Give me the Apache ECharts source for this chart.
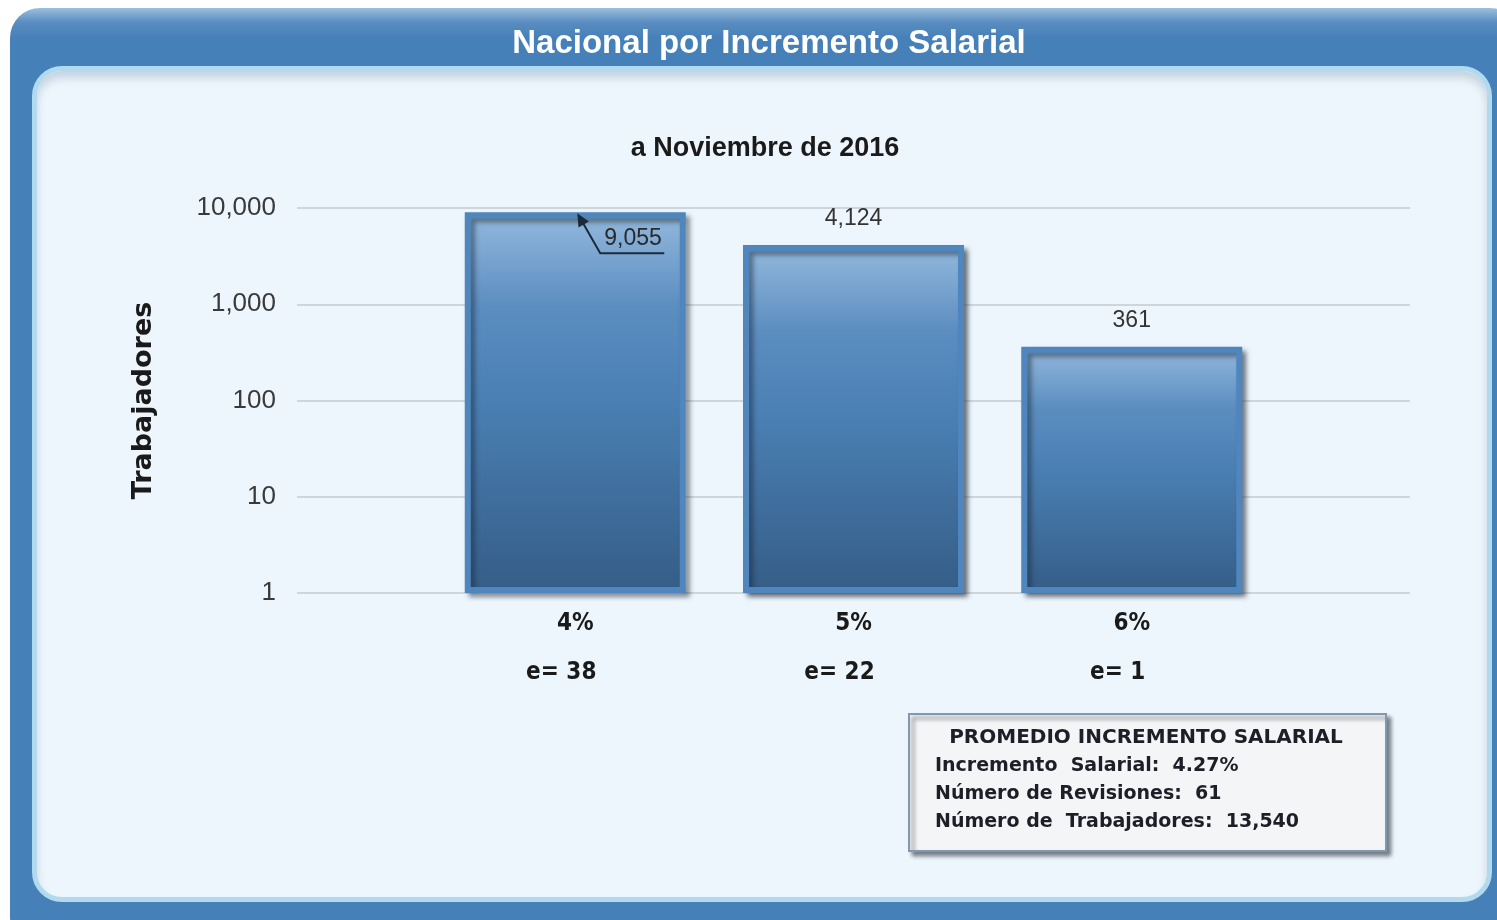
<!DOCTYPE html>
<html>
<head>
<meta charset="utf-8">
<script src="https://cdn.jsdelivr.net/npm/echarts@6/dist/echarts.min.js"></script>
<style>
  html, body { margin: 0; padding: 0; background: #ffffff; width: 1497px; height: 920px; overflow: hidden; }
  #outer { position: absolute; left: 10px; top: 8px; width: 1510px; height: 940px; border-radius: 30px;
    background: linear-gradient(to bottom, #9dbfdf 0px, #5a8dc1 14px, #4680b8 30px, #4580b8 100%); }
  #inner { position: absolute; left: 32px; top: 66px; width: 1450px; height: 826px; border-radius: 30px;
    background: #eef6fd; border: 5px solid #b2daee;
    box-shadow: inset 0 7px 8px rgba(80,110,140,0.25); }
  #chart { position: absolute; left: 0; top: 0; width: 1497px; height: 920px; }
</style>
</head>
<body>
<div id="outer"></div>
<div id="inner"></div>
<div id="chart"></div>
<script>
// ---- data ----
const categories = ['4%', '5%', '6%'];
const empresas = [38, 22, 1];
const trabajadores = [9055, 4124, 361];
const yTicks = [1, 10, 100, 1000, 10000];
const titleText = 'Nacional por Incremento Salarial';
const subtitleText = 'a Noviembre de 2016';
const axisName = 'Trabajadores';
const boxTitle = 'PROMEDIO INCREMENTO SALARIAL';
const boxLines = ['Incremento  Salarial:  4.27%', 'Número de Revisiones:  61', 'Número de  Trabajadores:  13,540'];

// padded category axis (empty slots at both ends)
const axisCats = [''].concat(categories, ['']);
const axisVals = ['-'].concat(trabajadores, ['-']);
const axisEmp = [null].concat(empresas, [null]);
const fmt = v => Number(v).toLocaleString('en-US');

const chart = echarts.init(document.getElementById('chart'), null, { renderer: 'canvas' });

const barGradient = new echarts.graphic.LinearGradient(0, 0, 0, 1, [
  { offset: 0, color: '#94b9dd' },
  { offset: 0.25, color: '#5b8dc0' },
  { offset: 0.5, color: '#4a7fb3' },
  { offset: 1, color: '#355d87' }
]);

const option = {
  animation: false,
  backgroundColor: 'transparent',
  title: [
    { text: titleText, left: 764, top: 22, textAlign: 'center',
      textStyle: { color: '#ffffff', fontSize: 33, fontWeight: 'bold', fontFamily: "'Liberation Sans Narrow', 'Liberation Sans', Arial" } },
    { text: subtitleText, left: 760, top: 130, textAlign: 'center',
      textStyle: { color: '#1a1a1a', fontSize: 27, fontWeight: 'bold', fontFamily: "'Liberation Sans', Arial" } }
  ],
  grid: { left: 297, right: 87, top: 208, bottom: 327 },
  xAxis: {
    type: 'category',
    data: axisCats,
    boundaryGap: false,
    axisLine: { show: false },
    axisTick: { show: false },
    splitLine: { show: false },
    axisLabel: {
      interval: 0,
      margin: 6,
      formatter: (val, idx) => {
        if (!val) return '';
        return '{a|' + val + '}\n{b|e= ' + axisEmp[idx] + '}';
      },
      rich: {
        a: { fontSize: 24, fontWeight: 'bold', color: '#1a1a1a', lineHeight: 49, fontFamily: "'DejaVu Sans Condensed', 'DejaVu Sans', sans-serif" },
        b: { fontSize: 24, fontWeight: 'bold', color: '#1a1a1a', lineHeight: 49, padding: [0, 28, 0, 0], fontFamily: "'DejaVu Sans Condensed', 'DejaVu Sans', sans-serif" }
      }
    }
  },
  yAxis: {
    type: 'log',
    logBase: 10,
    min: yTicks[0],
    max: yTicks[yTicks.length - 1],
    name: axisName,
    nameLocation: 'middle',
    nameGap: 140,
    nameTextStyle: { fontSize: 27, fontWeight: 'bold', color: '#1a1a1a', fontFamily: "'DejaVu Sans', sans-serif" },
    axisLine: { show: false },
    axisTick: { show: false },
    axisLabel: { margin: 21, fontSize: 26, color: '#3a3a3a', fontFamily: "'Liberation Sans', Arial", formatter: v => fmt(v) },
    splitLine: { lineStyle: { color: '#c5cacf', width: 1.5 } }
  },
  series: [{
    type: 'bar',
    data: axisVals.map((v, i) => ({
      value: v,
      label: { show: i !== 1 }
    })),
    barWidth: 221,
    itemStyle: {
      color: barGradient,
      borderColor: '#4f86bd',
      borderWidth: 6,
      shadowColor: 'rgba(30,40,55,0.55)',
      shadowBlur: 5,
      shadowOffsetX: 4,
      shadowOffsetY: 4
    },
    label: {
      show: true,
      position: 'top',
      distance: 15,
      fontSize: 23,
      color: '#333333',
      fontFamily: "'Liberation Sans', Arial",
      formatter: p => fmt(p.value)
    }
  }]
};
chart.setOption(option);

// callout for the first bar's value, anchored to the bar top through the axes
const p = chart.convertToPixel({ seriesIndex: 0 }, [1, trabajadores[0]]);
const tipX = p[0] + 2, tipY = p[1] + 1;
const elbowX = tipX + 23, elbowY = tipY + 40;
const endX = elbowX + 64;
const dx = tipX - elbowX, dy = tipY - elbowY, L = Math.hypot(dx, dy);
const ux = dx / L, uy = dy / L;
const hb = 13, hw = 6;
const bx = tipX - ux * hb, by = tipY - uy * hb;

const boxFont = "bold 19px 'DejaVu Sans', sans-serif";
chart.setOption({
  graphic: [
    { type: 'polyline', z: 100, shape: { points: [[tipX - ux * 6, tipY - uy * 6], [elbowX, elbowY], [endX, elbowY]] },
      style: { stroke: '#1b2a3a', lineWidth: 2, fill: null } },
    { type: 'polygon', z: 100, shape: { points: [[tipX, tipY], [bx - uy * hw, by + ux * hw], [bx + uy * hw, by - ux * hw]] },
      style: { fill: '#1b2a3a' } },
    { type: 'text', z: 100, style: { text: fmt(trabajadores[0]), x: elbowX + 4, y: elbowY - 3, textVerticalAlign: 'bottom',
      font: "23px 'Liberation Sans', Arial", fill: '#2a2a2a' } },
    { type: 'group', left: 908, top: 713, z: 100, children: [
      { type: 'rect', shape: { x: 0, y: 0, width: 477, height: 137 },
        style: { fill: '#f4f5f6', stroke: '#8298ae', lineWidth: 2,
          shadowColor: 'rgba(40,50,60,0.6)', shadowBlur: 4, shadowOffsetX: 4, shadowOffsetY: 4 } },
      { type: 'text', style: { text: boxTitle, x: 237, y: 24, textAlign: 'center', textVerticalAlign: 'middle',
        font: "bold 20px 'DejaVu Sans', sans-serif", fill: '#1e1e28' } },
      { type: 'text', style: { text: boxLines[0], x: 26, y: 52, textVerticalAlign: 'middle', font: boxFont, fill: '#1e1e28' } },
      { type: 'text', style: { text: boxLines[1], x: 26, y: 80, textVerticalAlign: 'middle', font: boxFont, fill: '#1e1e28' } },
      { type: 'text', style: { text: boxLines[2], x: 26, y: 108, textVerticalAlign: 'middle', font: boxFont, fill: '#1e1e28' } }
    ] }
  ]
});
</script>
</body>
</html>
